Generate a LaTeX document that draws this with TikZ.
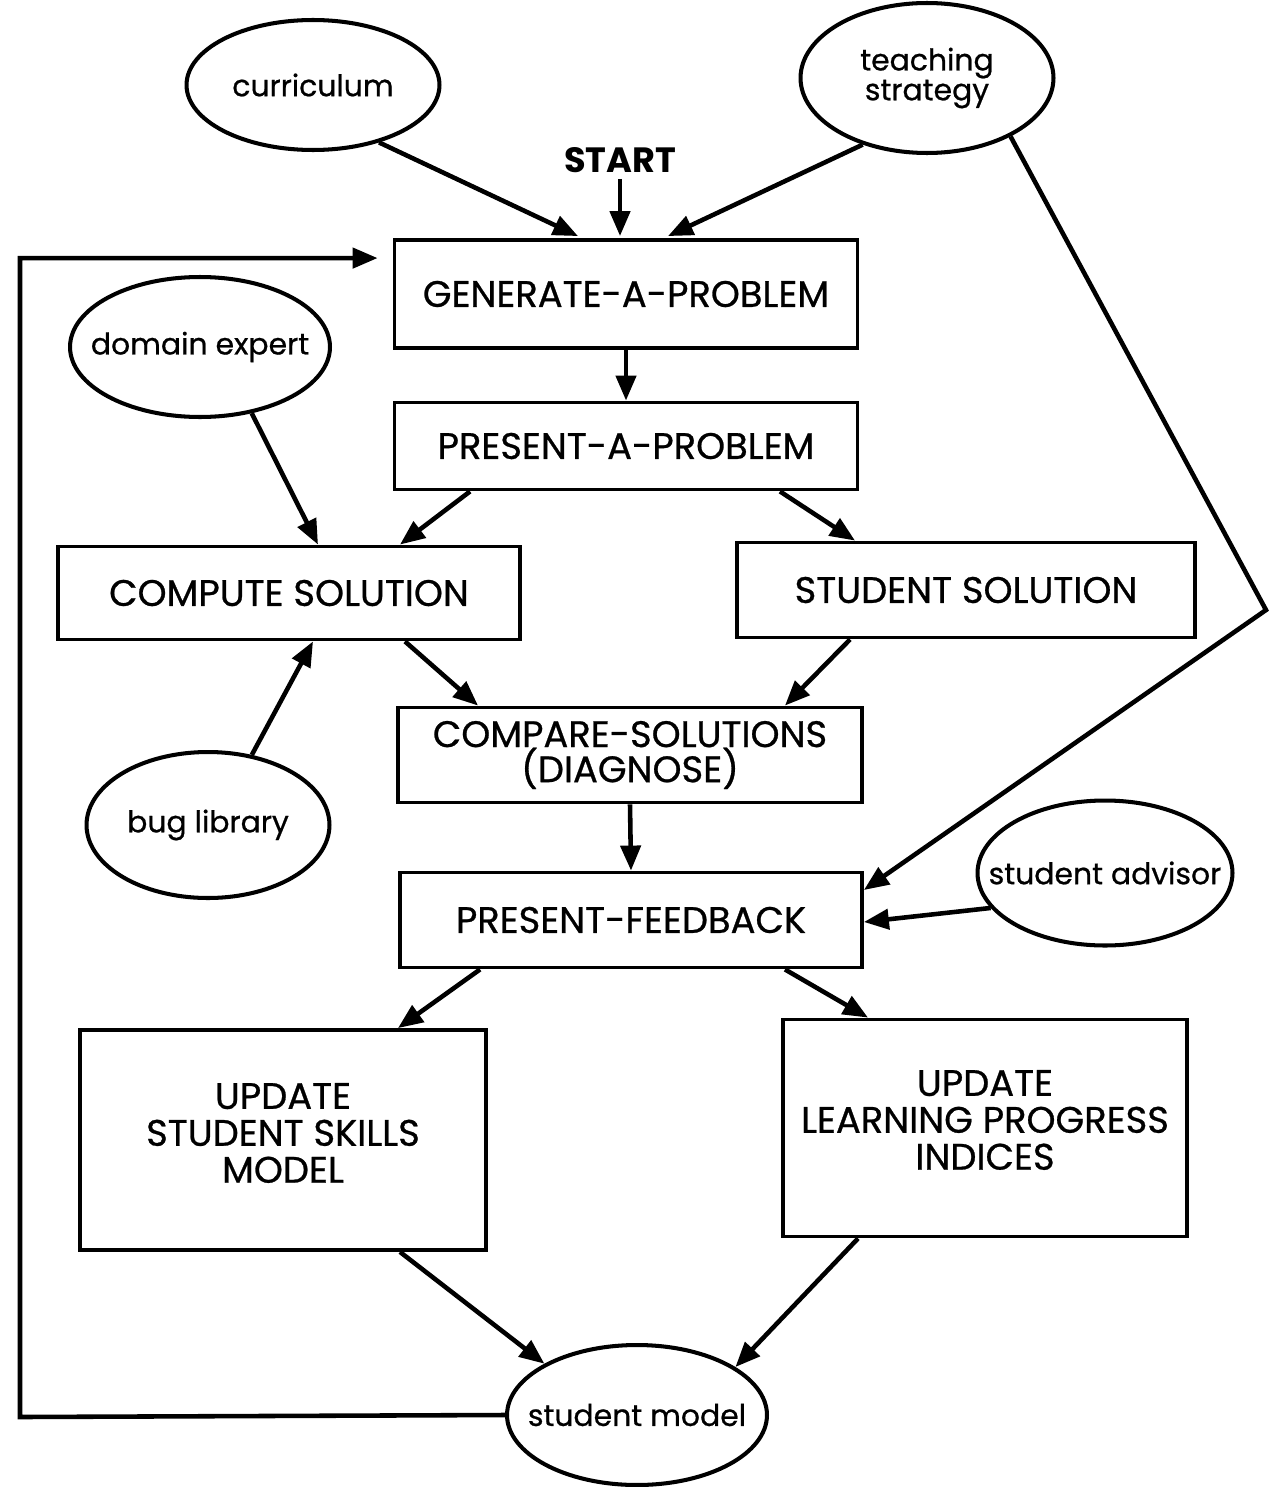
\documentclass[tikz,border=0pt]{standalone}
\usepackage{fontspec}
\setmainfont{Poppins}
\newfontfamily\thk{Poppins}[FakeBold=0.7]
\usetikzlibrary{shapes.geometric,arrows.meta}
\begin{document}
\begin{tikzpicture}[x=0.02cm,y=-0.02cm,
  btxt/.style={font=\thk\fontsize{21}{24}\selectfont,align=center},
  otxt/.style={font=\thk\fontsize{17}{20}\selectfont,align=center,inner sep=0pt},
  box/.style={draw,line width=2.2pt,rectangle,inner sep=0pt,btxt},
  oval/.style={draw,line width=2.3pt,ellipse,inner sep=0pt},
  arr/.style={line width=2.6pt,-{Triangle[length=0.5cm,width=0.4cm]}}]
\useasboundingbox (0,0) rectangle (1268,1487);
% ovals
\node[oval,minimum width=5.06cm,minimum height=2.6cm] (curr) at (313,85) {};
\node[otxt] (currt) at (curr) {curriculum};
\node[oval,minimum width=5.06cm,minimum height=3cm] (teach) at (927,78) {};
\node[otxt] (teacht) at (teach) {teaching\\[-3pt]strategy};
\node[oval,minimum width=5.2cm,minimum height=2.8cm] (dom) at (200,347) {};
\node[otxt] (domt) at (dom) {domain expert};
\node[oval,minimum width=4.86cm,minimum height=2.92cm] (bug) at (208,825) {};
\node[otxt] (bugt) at (bug) {bug library};
\node[oval,minimum width=5.1cm,minimum height=2.9cm] (adv) at (1105,873) {};
\node[otxt] (advt) at (adv) {student advisor};
\node[oval,minimum width=5.2cm,minimum height=2.8cm] (sm) at (637,1415) {};
\node[otxt] (smt) at (sm) {student model};
% start
\node[font=\fontsize{20}{23}\selectfont\bfseries] (start) at (620,160) {START};
% boxes
\node[box,minimum width=9.26cm,minimum height=2.16cm] (gen) at (626,294) {GENERATE-A-PROBLEM};
\node[box,minimum width=9.26cm,minimum height=1.74cm] (pres) at (626,446) {PRESENT-A-PROBLEM};
\node[box,minimum width=9.24cm,minimum height=1.86cm] (comp) at (289,593) {COMPUTE SOLUTION};
\node[box,minimum width=9.16cm,minimum height=1.9cm] (stud) at (966,590) {STUDENT SOLUTION};
\node[box,minimum width=9.28cm,minimum height=1.9cm] (cmp) at (630,755) {COMPARE-SOLUTIONS\\[-4pt](DIAGNOSE)};
\node[box,minimum width=9.24cm,minimum height=1.9cm] (fb) at (631,920) {PRESENT-FEEDBACK};
\node[box,minimum width=8.12cm,minimum height=4.4cm] (up1) at (283,1140) {};
\node[btxt] (up1t) at (up1) [yshift=0.14cm] {UPDATE\\[-3pt]STUDENT SKILLS\\[-3pt]MODEL};
\node[box,minimum width=8.08cm,minimum height=4.34cm] (up2) at (985,1128) {};
\node[btxt] (up2t) at (up2) [yshift=0.16cm] {UPDATE\\[-3pt]LEARNING PROGRESS\\[-3pt]INDICES};
% coordinates
\coordinate (bend) at (1266,610);
\coordinate (lp) at (20,1417);
% arrows
\draw[arr] (curr.-41) -- ([xshift=-0.96cm,yshift=0.04cm]gen.north);
\draw[arr] (start.south) -- ([yshift=0.04cm]start.south |- gen.north);
\draw[arr] (teach.-134) -- ([xshift=0.84cm,yshift=0.04cm]gen.north);
\draw[arr] (teach.-35) -- (bend) -- ([yshift=0.6cm]fb.east);
\draw[arr] (sm.west) -- (lp) |- ([xshift=-0.3cm,yshift=-0.4cm]gen.north west);
\draw[arr] (gen.south) -- (pres.north);
\draw[arr] ([xshift=-3.12cm]pres.south) -- ([xshift=2.22cm]comp.north);
\draw[arr] ([xshift=3.08cm]pres.south) -- ([xshift=-2.22cm]stud.north);
\draw[arr] (dom.-52) -- ([xshift=0.58cm]comp.north);
\draw[arr] (bug.58) -- ([xshift=0.48cm]comp.south);
\draw[arr] ([xshift=2.32cm]comp.south) -- ([xshift=-3.04cm]cmp.north);
\draw[arr] ([xshift=-2.32cm]stud.south) -- ([xshift=3.1cm]cmp.north);
\draw[arr] (cmp.south) -- (fb.north);
\draw[arr] (adv.-163) -- ([yshift=-0.04cm]fb.east);
\draw[arr] ([xshift=-3.02cm]fb.south) -- ([xshift=2.3cm]up1.north);
\draw[arr] ([xshift=3.08cm]fb.south) -- ([xshift=-2.34cm]up2.north);
\draw[arr] ([xshift=2.34cm]up1.south) -- (sm.151);
\draw[arr] ([xshift=-2.54cm]up2.south) -- (sm.26);
\end{tikzpicture}
\end{document}
